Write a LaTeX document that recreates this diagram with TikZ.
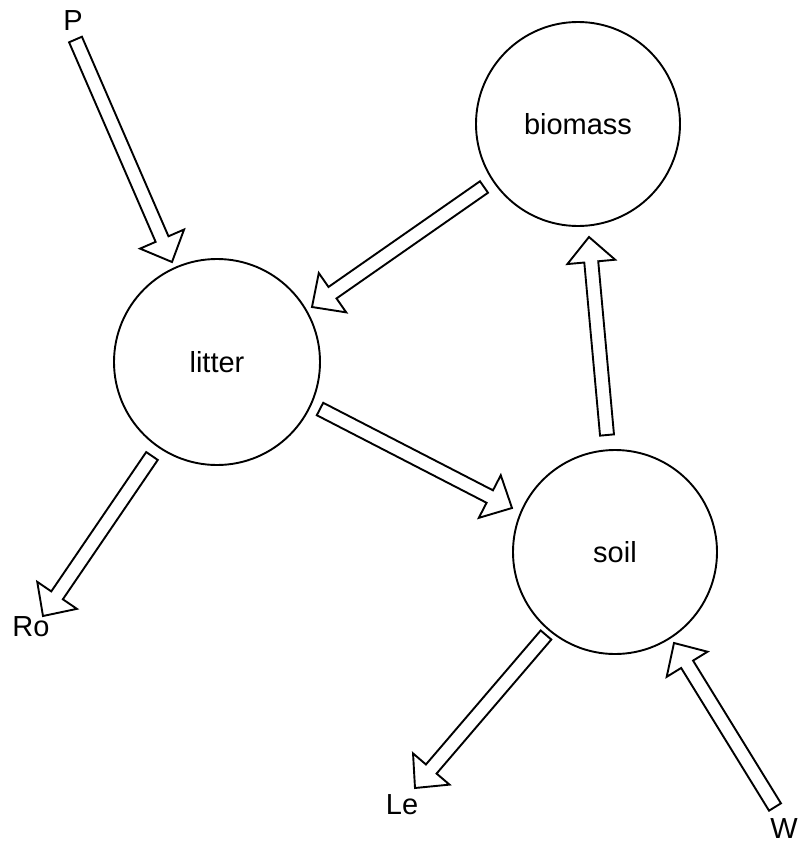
\documentclass[tikz,border=0pt]{standalone}
\usepackage{fontspec}
\setmainfont{Liberation Sans}
\usetikzlibrary{calc}
\tikzset{
  pool/.style={draw, circle, line width=1.9pt, minimum size=#1, inner sep=0pt, font=\fontsize{29}{34}\selectfont},
  lbl/.style={inner sep=0pt, font=\fontsize{29}{34}\selectfont},
  flow/.style={draw, line width=1.9pt, line join=miter, fill=white}
}
\newcommand{\hollowarrow}[2]{%
  \draw[flow]
    ($(#1)!7pt!90:(#2)$) --
    ($($(#2)!25pt!(#1)$)!7pt!-90:(#1)$) --
    ($($(#2)!25pt!(#1)$)!24pt!-90:(#1)$) --
    (#2) --
    ($($(#2)!25pt!(#1)$)!24pt!90:(#1)$) --
    ($($(#2)!25pt!(#1)$)!7pt!90:(#1)$) --
    ($(#1)!7pt!-90:(#2)$) -- cycle;}
\begin{document}
\begin{tikzpicture}[x=1pt,y=-1pt]
\useasboundingbox (0,0) rectangle (800,846);
\node[pool=204pt] (biomass) at (578,124) {biomass};
\node[pool=206pt] (litter) at (217,362) {litter};
\node[pool=204pt] (soil) at (615,552) {soil};
\node[lbl] (P) at (73,21) {P};
\node[lbl] (Ro) at (31,627) {Ro};
\node[lbl] (Le) at (402,805) {Le};
\node[lbl] (W) at (784,829) {W};
% arrow ends
\coordinate (p1) at (75.5,39.5);  \coordinate (p2) at (172,262);
\coordinate (b1) at (484,187);    \coordinate (b2) at (312,307);
\coordinate (l1) at (320,409);    \coordinate (l2) at (512,508);
\coordinate (r1) at (152,456);    \coordinate (r2) at (43,616);
\coordinate (s1) at (546,635);    \coordinate (s2) at (415,788);
\coordinate (w1) at (775,807);    \coordinate (w2) at (674,643);
\coordinate (u1) at (607,435);    \coordinate (u2) at (589,237);
\hollowarrow{p1}{p2}
\hollowarrow{b1}{b2}
\hollowarrow{l1}{l2}
\hollowarrow{r1}{r2}
\hollowarrow{s1}{s2}
\hollowarrow{w1}{w2}
\hollowarrow{u1}{u2}
\end{tikzpicture}
\end{document}
